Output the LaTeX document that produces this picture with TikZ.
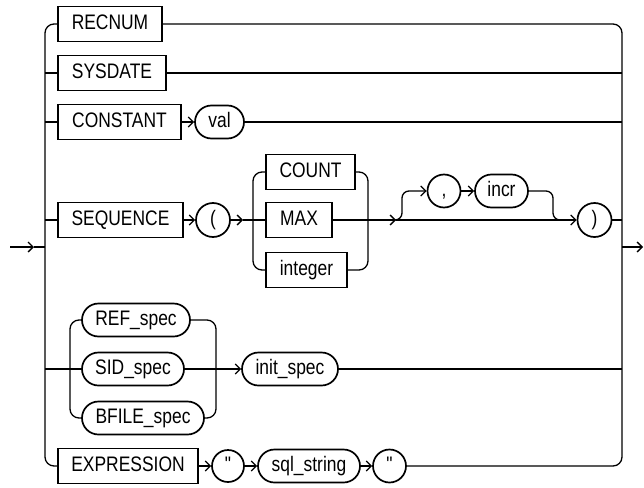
\documentclass[tikz,border=0pt]{standalone}
\usepackage{fontspec}
\setmainfont{Liberation Sans}[FakeStretch=0.83, Ligatures=TeXOff]
\usetikzlibrary{arrows.meta}
\begin{document}
\begin{tikzpicture}[x=1pt,y=-1pt,
  line width=1.3pt,
  every node/.style={font=\fontsize{21}{25}\selectfont, inner xsep=0pt, inner ysep=0pt, text height=15pt, text depth=4.5pt, line width=1.7pt, anchor=center},
  kw/.style={draw, rectangle, minimum height=35pt},
  nt/.style={draw, rectangle, rounded corners=16.5pt, minimum height=33pt},
  tm/.style={draw, circle, minimum size=34pt},
  arr/.style={-{Straight Barb[length=5pt,width=10pt,line width=1.3pt]}},
  rc/.style={rounded corners=9pt}]
\useasboundingbox (0,0) rectangle (644,487);
% rows
\node[kw, minimum width=104pt] (recnum) at (110,24) {RECNUM};
\node[kw, minimum width=108pt] (sysdate) at (112,73) {SYSDATE};
\node[kw, minimum width=123pt] (constant) at (119.5,122) {CONSTANT};
\node[nt, minimum width=49pt] (val) at (219.5,122) {val};
\node[kw, minimum width=125pt] (sequence) at (120.5,220) {SEQUENCE};
\node[tm] (lpar) at (213,220) {(};
\node[kw, minimum width=89pt] (count) at (310.5,172) {COUNT};
\node[kw, minimum width=66pt] (max) at (299,220) {MAX};
\node[kw, minimum width=81pt] (integer) at (306.5,270) {integer};
\node[tm, minimum size=33pt] (comma) at (444,191) {,};
\node[nt, minimum width=53pt] (incr) at (501.5,191) {incr};
\node[tm] (rpar) at (594.5,220) {)};
\node[nt, minimum width=108pt] (ref) at (136,320) {REF\_spec};
\node[nt, minimum width=102pt] (sid) at (133,369) {SID\_spec};
\node[nt, minimum width=122pt] (bfile) at (143,418) {BFILE\_spec};
\node[nt, minimum width=96pt] (init) at (290,369) {init\_spec};
\node[kw, minimum width=140pt] (expr) at (128,466) {EXPRESSION};
\node[tm, minimum size=32pt] (q1) at (228,466) {"};
\node[nt, minimum width=102pt] (sql) at (309,466) {sql\_string};
\node[tm, minimum size=33pt] (q2) at (389.5,466) {"};
% coordinates
\coordinate (in0) at (10,247);
\coordinate (in1) at (34,247);
\coordinate (L) at (45,247);
\coordinate (R) at (622,247);
\coordinate (out) at (643,247);
\coordinate (a1) at (243,220);
\coordinate (a2) at (396,220);
\coordinate (lp1) at (567,220);
% main frame
\draw[rc] (recnum.west) -- (45,24) -- (45,466) -- (expr.west);
\draw[rc] (recnum.east) -- (622,24) -- (622,466) -- (q2.east);
\draw[arr] (in0) -- (in1);
\draw (in1) -- (L);
\draw[arr] (R) -- (out);
% sysdate
\draw (45,73) -- (sysdate.west);
\draw (sysdate.east) -- (622,73);
% constant
\draw (45,122) -- (constant.west);
\draw[arr] (constant) -- (val);
\draw (val.east) -- (622,122);
% sequence
\draw (45,220) -- (sequence.west);
\draw[arr] (sequence) -- (lpar);
\draw[arr] (lpar.east) -- (a1);
\draw (a1) -- (max.west);
\draw[rc] (count.west) -- (253,172) -- (253,270) -- (integer.west);
\draw[rc] (count.east) -- (368,172) -- (368,270) -- (integer.east);
\draw[arr] (max.east) -- (a2);
\draw[arr] (a2) -- (rpar.west);
\draw[arr, rounded corners=7pt] (a2) -- (402,220) -- (402,191) -- (comma.west);
\draw[arr] (comma) -- (incr);
\draw[rounded corners=7pt] (incr.east) -- (553,191) -- (553,220) -- (lp1);
\draw (rpar.east) -- (622,220);
% spec group
\draw (45,369) -- (sid.west);
\draw[rc] (ref.west) -- (70,320) -- (70,418) -- (bfile.west);
\draw[rc] (ref.east) -- (216,320) -- (216,418) -- (bfile.east);
\draw[arr] (sid.east) -- (init.west);
\draw (init.east) -- (622,369);
% expression
\draw[arr] (expr) -- (q1);
\draw[arr] (q1) -- (sql);
\draw[arr] (sql) -- (q2);
\end{tikzpicture}
\end{document}
